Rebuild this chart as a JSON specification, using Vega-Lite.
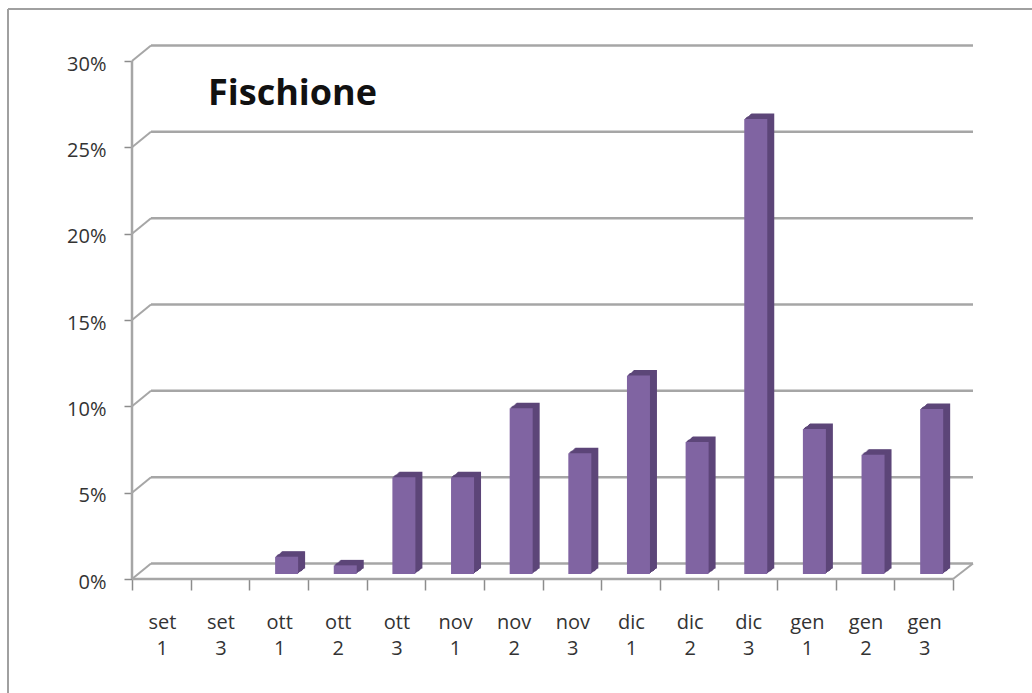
{"$schema":"https://vega.github.io/schema/vega-lite/v6.json","width":821,"height":518,"padding":{"left":132,"top":61,"right":79,"bottom":114},"autosize":{"type":"none"},"background":"white","view":{"stroke":null},
"title":{"text":"Fischione","anchor":"start","dx":201,"dy":109,"font":"Open Sans","fontSize":36,"fontWeight":"bold","color":"#111111"},
"datasets":{"bars":[{"slot":0.5,"label":"set 1","value":0,"base":0},{"slot":1.5,"label":"set 3","value":0,"base":0},{"slot":2.5,"label":"ott 1","value":1.0,"base":0},{"slot":3.5,"label":"ott 2","value":0.5,"base":0},{"slot":4.5,"label":"ott 3","value":5.6,"base":0},{"slot":5.5,"label":"nov 1","value":5.6,"base":0},{"slot":6.5,"label":"nov 2","value":9.6,"base":0},{"slot":7.5,"label":"nov 3","value":7.0,"base":0},{"slot":8.5,"label":"dic 1","value":11.5,"base":0},{"slot":9.5,"label":"dic 2","value":7.65,"base":0},{"slot":10.5,"label":"dic 3","value":26.35,"base":0},{"slot":11.5,"label":"gen 1","value":8.4,"base":0},{"slot":12.5,"label":"gen 2","value":6.9,"base":0},{"slot":13.5,"label":"gen 3","value":9.55,"base":0}],
"grid":[{"pct":0,"from":0,"to":14},{"pct":5,"from":0,"to":14},{"pct":10,"from":0,"to":14},{"pct":15,"from":0,"to":14},{"pct":20,"from":0,"to":14},{"pct":25,"from":0,"to":14},{"pct":30,"from":0,"to":14}],
"floor":[{"pct":0,"top":30,"from":0,"to":14}]},
"layer":[
{"data":{"name":"grid"},"mark":{"type":"rule","color":"#a6a6a6","strokeWidth":2.5,"xOffset":19,"x2Offset":20,"yOffset":-15.5},"encoding":{"x":{"field":"from","type":"quantitative","scale":{"domain":[0,14],"nice":false,"zero":false,"padding":0},"axis":{"title":null,"grid":false,"domain":false,"values":[0,1,2,3,4,5,6,7,8,9,10,11,12,13,14],"tickColor":"#8c8c8c","tickSize":11,"tickWidth":1.5,"labels":false}},"x2":{"field":"to"},"y":{"field":"pct","type":"quantitative","scale":{"domain":[0,30],"nice":false},"axis":{"title":null,"grid":false,"domain":false,"values":[0,5,10,15,20,25,30],"labelExpr":"datum.value+'%'","tickColor":"#8c8c8c","tickSize":8,"tickWidth":1.5,"labelFont":"Open Sans","labelFontSize":20,"labelColor":"#333333","labelPadding":18,"labelOffset":3}}}},
{"data":{"name":"grid"},"mark":{"type":"rule","color":"#a6a6a6","strokeWidth":2,"x2Offset":19,"y2Offset":-15.5},"encoding":{"x":{"field":"from","type":"quantitative"},"x2":{"field":"from"},"y":{"field":"pct","type":"quantitative"},"y2":{"field":"pct"}}},
{"data":{"name":"floor"},"mark":{"type":"rule","color":"#a6a6a6","strokeWidth":2.5},"encoding":{"x":{"field":"from","type":"quantitative"},"x2":{"field":"to"},"y":{"field":"pct","type":"quantitative"}}},
{"data":{"name":"floor"},"mark":{"type":"rule","color":"#a6a6a6","strokeWidth":2,"x2Offset":20,"y2Offset":-15.5},"encoding":{"x":{"field":"to","type":"quantitative"},"x2":{"field":"to"},"y":{"field":"pct","type":"quantitative"},"y2":{"field":"pct"}}},
{"data":{"name":"floor"},"mark":{"type":"rule","color":"#a6a6a6","strokeWidth":2.5},"encoding":{"x":{"field":"from","type":"quantitative"},"y":{"field":"pct","type":"quantitative"},"y2":{"field":"top"}}},
{"data":{"name":"floor"},"mark":{"type":"rule","color":"#a0a0a0","strokeWidth":2,"xOffset":-124,"yOffset":114,"y2Offset":-52},"encoding":{"x":{"field":"from","type":"quantitative"},"y":{"field":"pct","type":"quantitative"},"y2":{"field":"top"}}},
{"data":{"name":"floor"},"mark":{"type":"rule","color":"#a0a0a0","strokeWidth":2,"xOffset":-124,"x2Offset":79,"yOffset":-52},"encoding":{"x":{"field":"from","type":"quantitative"},"x2":{"field":"to"},"y":{"field":"top","type":"quantitative"}}},
{"data":{"name":"bars"},"layer":[
{"mark":{"type":"bar","size":23,"color":"#5d4679","xOffset":15,"yOffset":-10.5,"y2Offset":-10.5}},
{"mark":{"type":"bar","size":23,"color":"#5d4679","xOffset":14,"yOffset":-10,"y2Offset":-10}},
{"mark":{"type":"bar","size":23,"color":"#5d4679","xOffset":13,"yOffset":-9,"y2Offset":-9}},
{"mark":{"type":"bar","size":23,"color":"#5d4679","xOffset":12,"yOffset":-8,"y2Offset":-8}},
{"mark":{"type":"bar","size":23,"color":"#5d4679","xOffset":11,"yOffset":-7.5,"y2Offset":-7.5}},
{"mark":{"type":"bar","size":23,"color":"#5d4679","xOffset":10,"yOffset":-7,"y2Offset":-7}},
{"mark":{"type":"bar","size":23,"color":"#5d4679","xOffset":9,"yOffset":-6,"y2Offset":-6}},
{"mark":{"type":"bar","size":23,"color":"#8064a2","xOffset":8,"yOffset":-5,"y2Offset":-5}}],
"encoding":{"x":{"field":"slot","type":"quantitative"},"y":{"field":"value","type":"quantitative","stack":null},"y2":{"field":"base"}}},
{"data":{"name":"bars"},"transform":[{"calculate":"split(datum.label,' ')","as":"lines"}],"mark":{"type":"text","font":"Open Sans","fontSize":20,"color":"#333333","dy":44,"dx":1,"baseline":"middle","lineHeight":26},"encoding":{"x":{"field":"slot","type":"quantitative"},"y":{"datum":0},"text":{"field":"lines"}}}
]}
